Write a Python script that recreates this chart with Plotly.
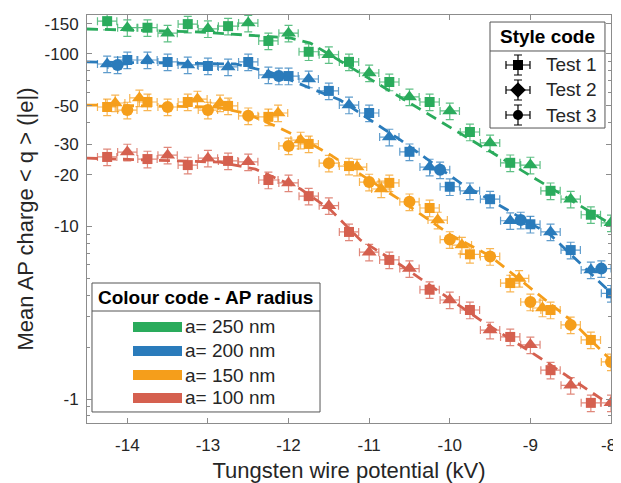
import plotly.graph_objects as go

# ---------------- data ----------------
# |q| values; the axis labels show them as negative charges
x_250 = [-14.25, -14.0, -13.75, -13.5, -13.25, -13.0, -12.75, -12.5, -12.25, -12.0,
         -11.75, -11.5, -11.25, -11.0, -10.75, -10.5, -10.25, -10.0, -9.75, -9.5,
         -9.25, -9.0, -8.75, -8.5, -8.25, -8.0]
t_250 = [1, 2] * 13
q_250 = [155, 142, 142, 132, 149, 140, 145, 151, 119, 132,
         103, 99, 90, 77.6, 68.8, 56.4, 52.7, 46.8, 35.3, 30.5,
         23.4, 22.7, 16.1, 14.4, 11.7, 10.5]

x_200 = [-14.25, -14.12, -14.0, -13.75, -13.5, -13.25, -13.0, -12.75, -12.5, -12.25,
         -12.12, -12.0, -11.75, -11.5, -11.25, -11.0, -10.75, -10.5, -10.25, -10.12,
         -10.0, -9.75, -9.5, -9.25, -9.12, -9.0, -8.75, -8.5, -8.25, -8.12, -8.0]
t_200 = [2, 3, 1, 2, 1, 2, 1, 2, 1, 2,
         3, 1, 2, 1, 2, 1, 2, 1, 2, 3,
         1, 2, 1, 2, 3, 1, 2, 1, 2, 3, 1]
q_200 = [87.5, 86.4, 92.3, 92.3, 89.9, 86.4, 85.2, 84.1, 89.9, 75.6,
         74.5, 74.5, 71.6, 61.1, 50.6, 45.5, 33.0, 27.1, 22.1, 21.3,
         17.0, 16.1, 14.4, 10.8, 10.9, 10.3, 9.3, 7.3, 5.6, 5.7, 4.1]

x_150 = [-14.25, -14.15, -14.0, -13.85, -13.75, -13.5, -13.25, -13.13, -13.0, -12.85,
         -12.75, -12.5, -12.25, -12.13, -12.0, -11.85, -11.75, -11.5, -11.25, -11.15,
         -11.0, -10.85, -10.75, -10.5, -10.25, -10.15, -10.0, -9.85, -9.75, -9.5,
         -9.25, -9.14, -9.0, -8.85, -8.75, -8.5, -8.25, -8.0]
t_150 = [1, 2, 3, 2, 1, 3, 1, 2, 3, 2,
         1, 3, 1, 2, 3, 2, 1, 3, 1, 2,
         3, 2, 1, 3, 1, 2, 3, 2, 1, 3,
         1, 2, 3, 2, 1, 3, 1, 3]
q_150 = [49.3, 52.0, 47.3, 55.6, 52.7, 49.3, 52.7, 54.8, 47.3, 52.0,
         50.0, 43.8, 43.2, 45.5, 29.3, 31.7, 30.1, 23.3, 22.4, 22.1,
         18.1, 16.5, 17.9, 13.9, 12.8, 10.9, 8.4, 7.8, 6.9, 6.7,
         4.7, 5.0, 3.65, 3.37, 3.28, 2.69, 2.20, 1.64]

x_100 = [-14.25, -14.0, -13.75, -13.5, -13.25, -13.0, -12.75, -12.5, -12.25, -12.0,
         -11.75, -11.5, -11.25, -11.0, -10.75, -10.5, -10.25, -10.0, -9.75, -9.5,
         -9.25, -9.0, -8.75, -8.5, -8.25, -8.0]
t_100 = [1, 2] * 13
q_100 = [25.3, 27.0, 24.6, 25.9, 22.7, 24.9, 24.0, 23.7, 18.6, 17.9,
         15.0, 13.2, 9.3, 7.1, 6.4, 5.7, 4.3, 3.75, 3.28, 2.51,
         2.29, 2.06, 1.47, 1.20, 0.95, 0.95]

# dashed fit curves
fx_250 = [-14.5, -13.09, -11.98, -11.73, -8.0]
fq_250 = [139.6, 134.1, 123.8, 115.8, 10.3]
fx_200 = [-14.5, -12.66, -12.23, -11.36, -10.61, -9.87, -9.37, -8.75, -8.0]
fq_200 = [89.9, 87.5, 78.6, 54.1, 31.7, 17.9, 13.15, 8.93, 4.12]
fx_150 = [-14.5, -12.91, -12.54, -12.16, -11.85, -11.48, -10.61, -9.99, -9.50, -9.12, -8.50, -8.0]
fq_150 = [50.6, 49.3, 45.5, 38.2, 32.6, 26.0, 14.2, 8.93, 6.75, 4.90, 2.87, 1.68]
fx_100 = [-14.5, -12.85, -12.41, -12.10, -11.85, -11.48, -11.11, -10.61, -9.99, -9.62, -8.88, -8.38, -8.0]
fq_100 = [24.9, 23.6, 21.5, 18.6, 16.5, 12.5, 8.35, 5.98, 3.75, 2.87, 1.73, 1.21, 0.92]

x_err = 0.12      # kV
q_err_pct = 11    # percent

radius_labels = ["a= 250 nm", "a= 200 nm", "a= 150 nm", "a= 100 nm"]
test_labels = ["Test 1", "Test 2", "Test 3"]

x_tickvals = [-14, -13, -12, -11, -10, -9, -8]
x_ticktext = ["-14", "-13", "-12", "-11", "-10", "-9", "-8\u00a0"]
y_tickvals = [1, 10, 20, 30, 50, 100, 150]
y_ticktext = ["-1", "-10", "-20", "-30", "-50", "-100", "-150"]
y_minor = [0.8, 0.9, 2, 3, 4, 5, 6, 7, 8, 9, 40, 60, 70, 80, 90]

# ---------------- styling ----------------
colors = ["#2aab5c", "#2a7bbb", "#f59e1b", "#d5604f"]
err_colors = ["rgba(42,171,92,0.75)", "rgba(42,123,187,0.75)",
              "rgba(245,158,27,0.75)", "rgba(213,96,79,0.75)"]
symbols = {1: "square", 2: "triangle-up", 3: "circle"}
sizes = {1: 10, 2: 13, 3: 12}
FONT = "Liberation Sans, Arial, Helvetica, sans-serif"
TXT = "#262626"
AX = "#8c8c8c"

series = [(x_250, t_250, q_250, fx_250, fq_250),
          (x_200, t_200, q_200, fx_200, fq_200),
          (x_150, t_150, q_150, fx_150, fq_150),
          (x_100, t_100, q_100, fx_100, fq_100)]

fig = go.Figure()

for ci, (xs, ts, qs, fxs, fqs) in enumerate(series):
    for test in (1, 2, 3):
        xx = [x for x, t in zip(xs, ts) if t == test]
        qq = [q for q, t in zip(qs, ts) if t == test]
        if not xx:
            continue
        fig.add_trace(go.Scatter(
            x=xx, y=qq, mode="markers", showlegend=False,
            marker=dict(symbol=symbols[test], size=sizes[test], color=colors[ci],
                        line=dict(width=0)),
            error_x=dict(type="constant", value=x_err, color=err_colors[ci],
                         thickness=1.2, width=4),
            error_y=dict(type="percent", value=q_err_pct, color=err_colors[ci],
                         thickness=1.2, width=4),
        ))
for ci, (xs, ts, qs, fxs, fqs) in enumerate(series):
    fig.add_trace(go.Scatter(
        x=fxs, y=fqs, mode="lines", showlegend=False,
        line=dict(color=colors[ci], width=2.8, dash="11px,7px"),
        hoverinfo="skip",
    ))

# ---------------- "Style code" legend (glyphs on an overlay axis) ----------------
sx0, sx1, sy0, sy1, s_sep = 0.7691, 0.9885, 0.7230, 0.9828, 0.9118
glyph_x = 0.8225
item_y = [0.8775, 0.8162, 0.7549]
leg_symbols = ["square", "diamond", "circle"]
for i, lab in enumerate(test_labels):
    fig.add_trace(go.Scatter(
        x=[glyph_x], y=[item_y[i]], xaxis="x2", yaxis="y2", mode="markers",
        showlegend=False, hoverinfo="skip",
        marker=dict(symbol=leg_symbols[i], size=10 if i != 1 else 12, color="black"),
        error_x=dict(type="constant", value=0.0229, color="black", thickness=1.2, width=4),
        error_y=dict(type="constant", value=0.0245, color="black", thickness=1.2, width=4),
    ))

shapes = [
    dict(type="rect", xref="paper", yref="paper", x0=sx0, x1=sx1, y0=sy0, y1=sy1,
         line=dict(color="#555555", width=1), fillcolor="white", layer="below"),
    dict(type="line", xref="paper", yref="paper", x0=sx0, x1=sx1, y0=s_sep, y1=s_sep,
         line=dict(color="#555555", width=1), layer="below"),
]
annotations = [
    dict(x=(sx0 + sx1) / 2, y=0.9461, xref="paper", yref="paper", text="<b>Style code</b>",
         showarrow=False, xanchor="center", yanchor="middle",
         font=dict(family=FONT, size=19, color="black")),
]
for i, lab in enumerate(test_labels):
    annotations.append(dict(x=0.8720, y=item_y[i], xref="paper", yref="paper", text=lab,
                            showarrow=False, xanchor="left", yanchor="middle",
                            font=dict(family=FONT, size=19, color=TXT)))

# ---------------- "Colour code" legend ----------------
cx0, cx1, cy0, cy1, c_sep = 0.00954, 0.4447, 0.0270, 0.3431, 0.2745
sw_x0, sw_x1, sw_h = 0.0878, 0.1813, 0.0125
c_item_y = [0.2353, 0.1765, 0.1176, 0.0613]
shapes += [
    dict(type="rect", xref="paper", yref="paper", x0=cx0, x1=cx1, y0=cy0, y1=cy1,
         line=dict(color="#555555", width=1), fillcolor="white", layer="below"),
    dict(type="line", xref="paper", yref="paper", x0=cx0, x1=cx1, y0=c_sep, y1=c_sep,
         line=dict(color="#555555", width=1), layer="below"),
]
annotations.append(dict(x=0.0165, y=0.3088, xref="paper", yref="paper",
                        text="<b>Colour code - AP radius</b>", showarrow=False,
                        xanchor="left", yanchor="middle",
                        font=dict(family=FONT, size=19, color="black")))
for i, lab in enumerate(radius_labels):
    shapes.append(dict(type="rect", xref="paper", yref="paper", x0=sw_x0, x1=sw_x1,
                       y0=c_item_y[i] - sw_h, y1=c_item_y[i] + sw_h,
                       line=dict(width=0), fillcolor=colors[i], layer="above"))
    annotations.append(dict(x=0.1840, y=c_item_y[i], xref="paper", yref="paper", text=lab,
                            showarrow=False, xanchor="left", yanchor="middle",
                            font=dict(family=FONT, size=19, color=TXT)))

# the page body adds an 8 px offset, so the figure is sized accordingly
fig.update_layout(
    width=613, height=475,
    margin=dict(l=79, r=10, t=7, b=60, autoexpand=False),
    paper_bgcolor="white", plot_bgcolor="white",
    font=dict(family=FONT, color=TXT),
    shapes=shapes, annotations=annotations,
    xaxis=dict(
        range=[-14.5, -8.0], tickmode="array", tickvals=x_tickvals, ticktext=x_ticktext,
        ticks="inside", ticklen=5, tickcolor=AX, showline=True, linecolor=AX, linewidth=1,
        mirror="ticks", showgrid=False, zeroline=False, automargin=False,
        ticklabelstandoff=7, ticklabeloverflow="allow",
        tickfont=dict(family=FONT, size=17, color=TXT),
        title=dict(text="Tungsten wire potential (kV)", standoff=9,
                   font=dict(family=FONT, size=22, color=TXT)),
    ),
    yaxis=dict(
        type="log", range=[-0.139, 2.226], tickmode="array", tickvals=y_tickvals,
        ticktext=y_ticktext, ticks="inside", ticklen=5, tickcolor=AX, showline=True,
        linecolor=AX, linewidth=1, mirror="ticks", showgrid=False, zeroline=False,
        automargin=False, ticklabelstandoff=4,
        tickfont=dict(family=FONT, size=17, color=TXT),
        minor=dict(tickmode="array", tickvals=y_minor, ticks="inside", ticklen=3,
                   tickcolor=AX, showgrid=False),
        title=dict(text="Mean AP charge < q > (|e|)", standoff=4,
                   font=dict(family=FONT, size=22, color=TXT)),
    ),
    xaxis2=dict(overlaying="x", anchor="y2", range=[0, 1], visible=False, fixedrange=True),
    yaxis2=dict(overlaying="y", anchor="x2", range=[0, 1], visible=False, fixedrange=True),
)

fig.write_html("out.html")
